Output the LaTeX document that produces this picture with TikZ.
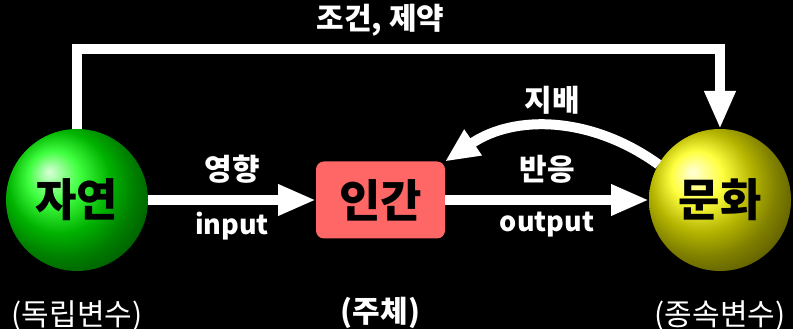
\documentclass[tikz,border=0pt]{standalone}
\usepackage{fontspec}
\setmainfont{Noto Sans CJK KR}
\usepackage{tikz}
\usetikzlibrary{arrows.meta,positioning,shadings}

\begin{document}
\begin{tikzpicture}[
    x=1pt, y=1pt,
    ball/.style={circle, shading=ball, minimum size=142pt, inner sep=0pt, outer sep=0pt, font=\fontsize{45}{47}\selectfont\bfseries, text=black},
    human/.style={rectangle, rounded corners=8pt, fill=humanred, minimum width=129pt, minimum height=77pt, inner sep=0pt, outer sep=0pt, font=\fontsize{45}{47}\selectfont\bfseries, text=black},
    label/.style={text=white, inner sep=0pt, font=\fontsize{30}{32}\selectfont\bfseries},
    io/.style={text=white, inner sep=0pt, font=\fontsize{27}{29}\selectfont\bfseries},
    role/.style={text=white, inner sep=0pt, font=\fontsize{30}{32}\selectfont},
    arrow/.style={draw=white, line width=10pt, -{Triangle[length=38pt,width=29pt]}}
]
\definecolor{humanred}{HTML}{FF6666}
\fill[black] (0,0) rectangle (793,329);
\useasboundingbox (0,0) rectangle (793,329);

% Nodes
\node[ball, ball color=green] (nature) at (77,129) {자연};
\node[human, right=168pt of nature] (man) {인간};
\node[ball, ball color=yellow, right=204pt of man] (culture) {문화};
\node[role, below=30pt of nature] (indep) {(독립변수)};
\node[role, font=\fontsize{30}{32}\selectfont\bfseries, below=58pt of man] (subject) {(주체)};
\node[role, below=30pt of culture] (dep) {(종속변수)};

% Arrows
\draw[arrow] (nature.north) -- ++(0,80) -| node[label, pos=0.25, xshift=-18pt, yshift=29pt] {조건, 제약} (culture.north);
\draw[arrow] (nature) -- node[label, above=12pt] {영향} node[io, below=7pt] {input} (man);
\draw[arrow] (man) -- node[label, above=12pt] {반응} node[io, below=7pt] {output} (culture);
\draw[arrow, -{Triangle[length=34pt,width=29pt]}] (culture.150) to[bend right=35] node[label, above=8pt] {지배} (man.north east);

\end{tikzpicture}
\end{document}
